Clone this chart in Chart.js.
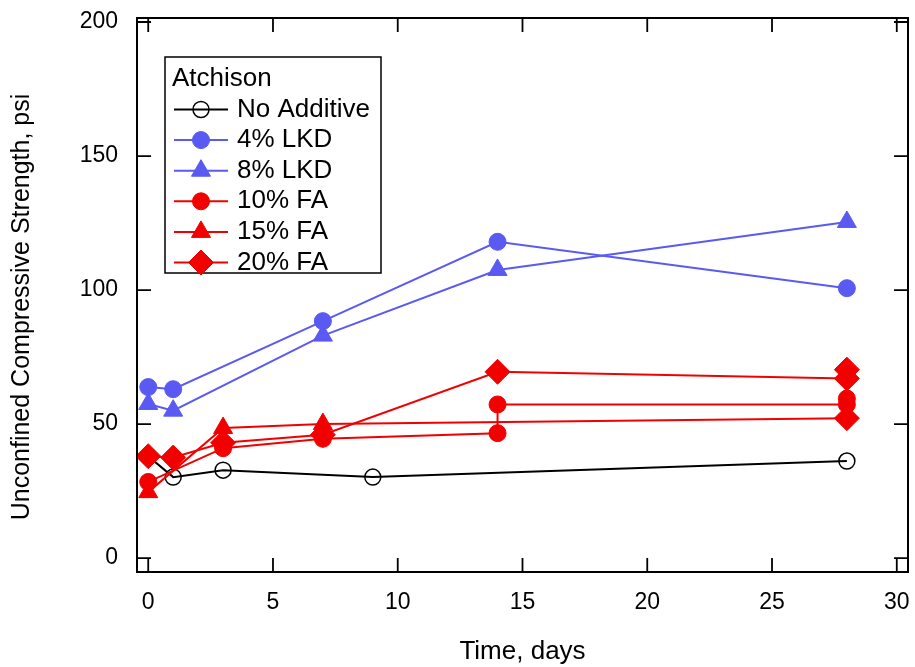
<!DOCTYPE html>
<html>
<head>
<meta charset="utf-8">
<script src="https://cdn.jsdelivr.net/npm/chart.js@4.4.1/dist/chart.umd.min.js"></script>
<style>
  html, body { margin: 0; padding: 0; background: #ffffff; }
  #wrap { width: 915px; height: 667px; }
</style>
</head>
<body>
<div id="wrap"><canvas id="c" width="915" height="667"></canvas></div>
<script>
// ---- data ----
const xTicks = [0, 5, 10, 15, 20, 25, 30];
const yTicks = [0, 50, 100, 150, 200];

const noAddDays = [0, 1, 3, 9, 28];
const noAddPsi  = [38, 30.2, 32.8, 30.2, 36.2];

const lkd4Days = [0, 1, 7, 14, 28];
const lkd4Psi  = [63.8, 63, 88.4, 118, 100.7];

const lkd8Days = [0, 1, 7, 14, 28];
const lkd8Psi  = [57.5, 55, 83, 107.5, 125.4];

const fa10Days = [0, 3, 7, 14, 14, 28, 28];
const fa10Psi  = [28.4, 41, 44.5, 46.6, 57.3, 57.3, 59.5];

const fa15Days = [0, 3, 7, 28];
const fa15Psi  = [24.6, 48.5, 50, 52.2];

const fa20Days = [0, 1, 3, 7, 14, 28, 28];
const fa20Psi  = [38, 37.5, 43, 46, 69.5, 67, 70.3];

const legendTitle = 'Atchison';
const seriesNames = ['No Additive', '4% LKD', '8% LKD', '10% FA', '15% FA', '20% FA'];
const xTitle = 'Time, days';
const yTitle = 'Unconfined Compressive Strength, psi';

// ---- styling ----
const BLUE = '#5A5AF2';
const RED = '#F20000';
const FONT = 'Liberation Sans, Arial, Helvetica, sans-serif';
const TICK_FS = 23;
const TEXT_FS = 26;
const YTITLE_FS = 25;

function pts(xs, ys) { return xs.map((x, i) => ({ x: x, y: ys[i] })); }

function ds(label, xs, ys, color, style, radius, order, extra) {
  return Object.assign({
    label: label,
    data: pts(xs, ys),
    borderColor: color,
    backgroundColor: color,
    borderWidth: 2,
    pointStyle: style,
    pointRadius: radius,
    pointBorderWidth: 1,
    pointBorderColor: color,
    pointBackgroundColor: color,
    pointHoverRadius: radius,
    tension: 0,
    order: order,
    showLine: true,
    fill: false
  }, extra || {});
}

const R_CIRC = 8.5, R_TRI = 11, R_DIA = 12.5, R_OPEN = 8;

const datasets = [
  ds(seriesNames[0], noAddDays, noAddPsi, '#000000', 'circle', R_OPEN, 10,
     { pointBackgroundColor: 'rgba(0,0,0,0)', pointBorderWidth: 1.5 }),
  ds(seriesNames[1], lkd4Days, lkd4Psi, BLUE, 'circle', R_CIRC, 6),
  ds(seriesNames[2], lkd8Days, lkd8Psi, BLUE, 'triangle', R_TRI, 5),
  ds(seriesNames[3], fa10Days, fa10Psi, RED, 'circle', R_CIRC, 3),
  ds(seriesNames[4], fa15Days, fa15Psi, RED,
     (c) => (c.dataIndex === fa15Days.length - 1 ? 'rectRot' : 'triangle'),
     (c) => (c.dataIndex === fa15Days.length - 1 ? R_DIA : R_TRI), 2),
  ds(seriesNames[5], fa20Days, fa20Psi, RED, 'rectRot', R_DIA, 1)
];
const legendStyles = ['circle', 'circle', 'triangle', 'circle', 'triangle', 'rectRot'];
const legendRadii = [R_OPEN, R_CIRC, R_TRI, R_CIRC, R_TRI, R_DIA];

// frame + inward mirrored ticks
const frameTicks = {
  id: 'frameTicks',
  afterDatasetsDraw(chart) {
    const { ctx, chartArea: a, scales: { x, y } } = chart;
    const L = 14;
    ctx.save();
    ctx.strokeStyle = '#000';
    ctx.lineWidth = 2;
    ctx.strokeRect(a.left, a.top, a.right - a.left, a.bottom - a.top);
    ctx.lineWidth = 1.8;
    ctx.beginPath();
    xTicks.forEach(v => {
      const px = x.getPixelForValue(v);
      ctx.moveTo(px, a.bottom); ctx.lineTo(px, a.bottom - L);
      ctx.moveTo(px, a.top); ctx.lineTo(px, a.top + L);
    });
    yTicks.forEach(v => {
      const py = y.getPixelForValue(v);
      ctx.moveTo(a.left, py); ctx.lineTo(a.left + L, py);
      ctx.moveTo(a.right, py); ctx.lineTo(a.right - L, py);
    });
    ctx.stroke();
    ctx.restore();
  }
};

// legend box inside the plot + y axis title
const boxLegend = {
  id: 'boxLegend',
  afterDatasetsDraw(chart) {
    const ctx = chart.ctx;
    const bx = 165, by = 57, bw = 216, bh = 216;
    ctx.save();
    ctx.fillStyle = '#fff';
    ctx.fillRect(bx, by, bw, bh);
    ctx.strokeStyle = '#000';
    ctx.lineWidth = 1.5;
    ctx.strokeRect(bx, by, bw, bh);
    ctx.font = TEXT_FS + 'px ' + FONT;
    ctx.fillStyle = '#000';
    ctx.textBaseline = 'middle';
    ctx.textAlign = 'left';
    ctx.fillText(legendTitle, 172, 79);
    chart.data.datasets.forEach((d, i) => {
      const cy = 109.5 + i * 30.6;
      ctx.strokeStyle = d.borderColor;
      ctx.lineWidth = 2;
      ctx.beginPath();
      ctx.moveTo(174, cy); ctx.lineTo(228, cy);
      ctx.stroke();
      ctx.fillStyle = d.pointBackgroundColor;
      ctx.strokeStyle = d.pointBorderColor;
      ctx.lineWidth = d.pointBorderWidth;
      Chart.helpers.drawPoint(ctx, { pointStyle: legendStyles[i], rotation: 0, radius: legendRadii[i], borderWidth: d.pointBorderWidth }, 201, cy);
      ctx.fillStyle = '#000';
      ctx.fillText(d.label, 237, cy);
    });
    // y axis title
    ctx.font = YTITLE_FS + 'px ' + FONT;
    ctx.translate(22, 307);
    ctx.rotate(-Math.PI / 2);
    ctx.textAlign = 'center';
    ctx.fillText(yTitle, 0, 0);
    ctx.restore();
  }
};

new Chart(document.getElementById('c'), {
  type: 'scatter',
  data: { datasets: datasets },
  options: {
    responsive: false,
    animation: false,
    devicePixelRatio: 1,
    layout: { autoPadding: false, padding: { left: 0, right: 7, top: 18, bottom: 0 } },
    plugins: {
      legend: { display: false },
      tooltip: { enabled: false }
    },
    scales: {
      x: {
        type: 'linear',
        min: -0.45, max: 30.45,
        afterBuildTicks: s => { s.ticks = xTicks.map(v => ({ value: v })); },
        afterFit: s => { s.height = 95; s.paddingLeft = 0; s.paddingRight = 0; },
        grid: { display: false, drawTicks: false },
        border: { display: false },
        ticks: { color: '#000', font: { family: FONT, size: TICK_FS }, padding: 17, maxRotation: 0 },
        title: { display: true, text: xTitle, color: '#000', font: { family: FONT, size: TEXT_FS }, padding: { top: 0, bottom: 0 } }
      },
      y: {
        type: 'linear',
        min: -5.2, max: 201.5,
        afterBuildTicks: s => { s.ticks = yTicks.map(v => ({ value: v })); },
        afterFit: s => { s.width = 137; s.paddingTop = 0; s.paddingBottom = 0; },
        grid: { display: false, drawTicks: false },
        border: { display: false },
        ticks: { color: '#000', font: { family: FONT, size: TICK_FS }, padding: 19 },
        title: { display: false, text: yTitle }
      }
    }
  },
  plugins: [frameTicks, boxLegend]
});
</script>
</body>
</html>
